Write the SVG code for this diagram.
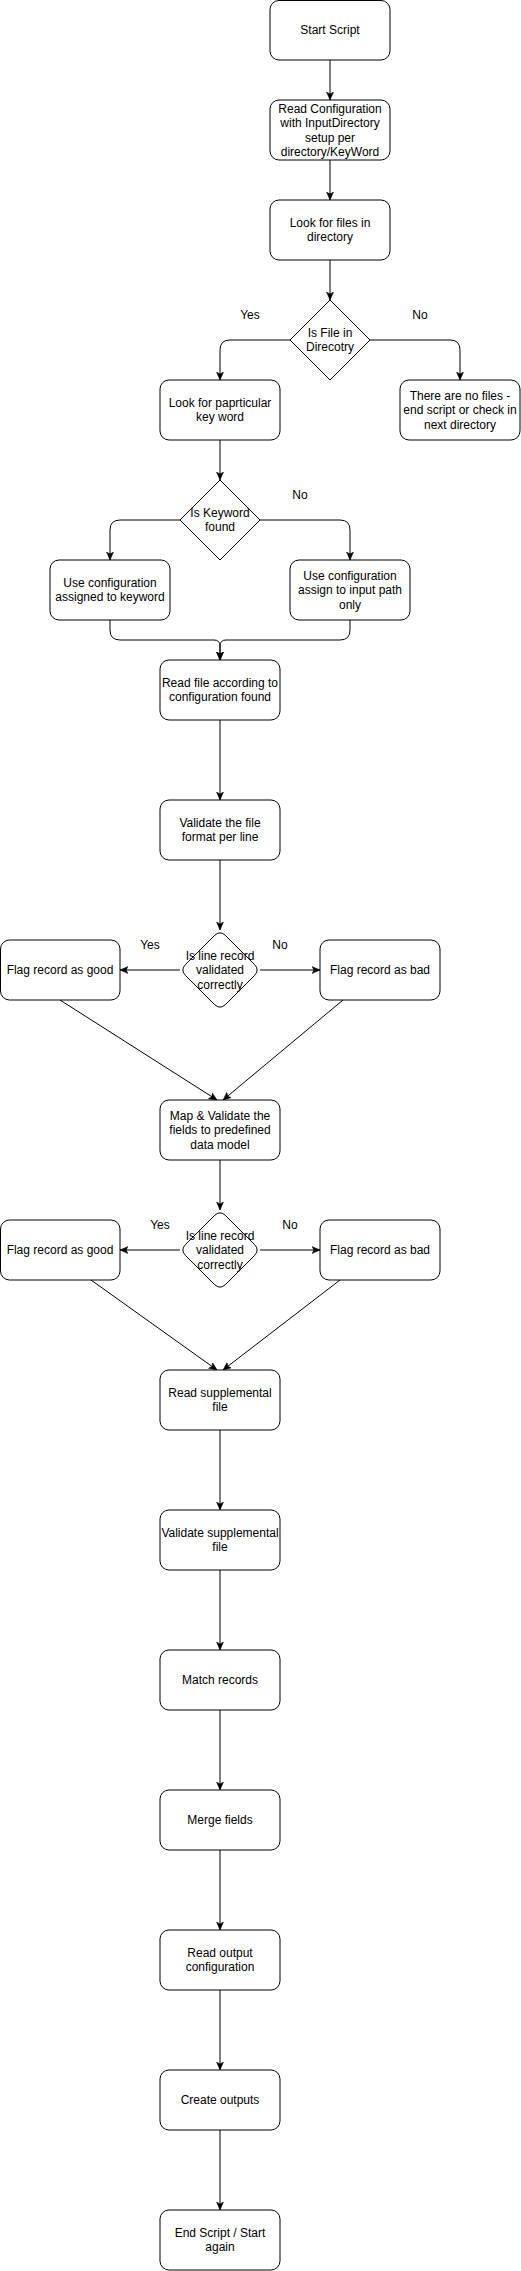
<svg xmlns="http://www.w3.org/2000/svg" width="521" height="2271" viewBox="0 0 521 2271">
<style>
.n{fill:#fff;stroke:#000;stroke-width:1}
.t{font-family:"Liberation Sans",Arial,sans-serif;font-size:12px;fill:#000;text-anchor:middle}
.e{fill:none;stroke:#000;stroke-width:1}
</style>
<defs>
<marker id="arr" markerWidth="10" markerHeight="8" refX="8" refY="4" orient="auto" markerUnits="userSpaceOnUse" viewBox="0 0 10 8">
<path d="M0,0.5 L8,4 L0,7.5 L2,4 Z" fill="#000" stroke="#000" stroke-width="0.5"/>
</marker>
<path id="rdia" d="M214.34,935.66 Q220,930 225.66,935.66 L254.34,964.34 Q260,970 254.34,975.66 L225.66,1004.34 Q220,1010 214.34,1004.34 L185.66,975.66 Q180,970 185.66,964.34 Z"/>
</defs>
<rect width="521" height="2271" fill="#fff"/>

<g id="connectors">
<path class="e" d="M330,60 L330,100" marker-end="url(#arr)"/>
<path class="e" d="M330,160 L330,200" marker-end="url(#arr)"/>
<path class="e" d="M330,260 L330,300" marker-end="url(#arr)"/>
<path class="e" d="M290,340 L230,340 Q220,340 220,350 L220,380" marker-end="url(#arr)"/>
<path class="e" d="M370,340 L450,340 Q460,340 460,350 L460,380" marker-end="url(#arr)"/>
<path class="e" d="M220,440 L220,480" marker-end="url(#arr)"/>
<path class="e" d="M180,520 L120,520 Q110,520 110,530 L110,560" marker-end="url(#arr)"/>
<path class="e" d="M260,520 L340,520 Q350,520 350,530 L350,560" marker-end="url(#arr)"/>
<path class="e" d="M110,620 L110,630 Q110,640 120,640 L214,640 Q220,640 220,646 L220,660" marker-end="url(#arr)"/>
<path class="e" d="M350,620 L350,630 Q350,640 340,640 L226,640 Q220,640 220,646 L220,660" marker-end="url(#arr)"/>
<path class="e" d="M220,720 L220,800" marker-end="url(#arr)"/>
<path class="e" d="M220,860 L220,930" marker-end="url(#arr)"/>
<path class="e" d="M180,970 L120,970" marker-end="url(#arr)"/>
<path class="e" d="M260,970 L320,970" marker-end="url(#arr)"/>
<path class="e" d="M60,1000 L217,1100" marker-end="url(#arr)"/>
<path class="e" d="M343,1000 L223,1100" marker-end="url(#arr)"/>
<path class="e" d="M220,1160 L220,1210" marker-end="url(#arr)"/>
<path class="e" d="M180,1250 L120,1250" marker-end="url(#arr)"/>
<path class="e" d="M260,1250 L320,1250" marker-end="url(#arr)"/>
<path class="e" d="M91,1280 L217,1370" marker-end="url(#arr)"/>
<path class="e" d="M340,1280 L223,1370" marker-end="url(#arr)"/>
<path class="e" d="M220,1430 L220,1510" marker-end="url(#arr)"/>
<path class="e" d="M220,1570 L220,1650" marker-end="url(#arr)"/>
<path class="e" d="M220,1710 L220,1790" marker-end="url(#arr)"/>
<path class="e" d="M220,1850 L220,1930" marker-end="url(#arr)"/>
<path class="e" d="M220,1990 L220,2070" marker-end="url(#arr)"/>
<path class="e" d="M220,2130 L220,2210" marker-end="url(#arr)"/>
</g>

<g id="labels">
<text class="t" x="250" y="319">Yes</text>
<text class="t" x="420" y="319">No</text>
<text class="t" x="300" y="499">No</text>
<text class="t" x="150" y="949">Yes</text>
<text class="t" x="280" y="949">No</text>
<text class="t" x="160" y="1229">Yes</text>
<text class="t" x="290" y="1229">No</text>
</g>

<g id="start">
<rect class="n" x="270" y="0.5" width="120" height="59.5" rx="9"/>
<text class="t" x="330" y="34.3">Start Script</text>
</g>
<g id="readConfig">
<rect class="n" x="270" y="100" width="120" height="60" rx="9"/>
<text class="t" x="330" y="113"><tspan x="330">Read Configuration</tspan><tspan x="330" dy="14.4">with InputDirectory</tspan><tspan x="330" dy="14.4">setup per</tspan><tspan x="330" dy="14.4">directory/KeyWord</tspan></text>
</g>
<g id="lookFiles">
<rect class="n" x="270" y="200" width="120" height="60" rx="9"/>
<text class="t" x="330" y="227"><tspan x="330">Look for files in</tspan><tspan x="330" dy="14.4">directory</tspan></text>
</g>
<g id="isFile">
<path class="n" d="M330,300 L370,340 L330,380 L290,340 Z"/>
<text class="t" x="330" y="337"><tspan x="330">Is File in</tspan><tspan x="330" dy="14.4">Direcotry</tspan></text>
</g>
<g id="lookKeyword">
<rect class="n" x="160" y="380" width="120" height="60" rx="9"/>
<text class="t" x="220" y="407"><tspan x="220">Look for paprticular</tspan><tspan x="220" dy="14.4">key word</tspan></text>
</g>
<g id="noFiles">
<rect class="n" x="400" y="380" width="120" height="60" rx="9"/>
<text class="t" x="460" y="400"><tspan x="460">There are no files -</tspan><tspan x="460" dy="14.4">end script or check in</tspan><tspan x="460" dy="14.4">next directory</tspan></text>
</g>
<g id="isKeyword">
<path class="n" d="M220,480 L260,520 L220,560 L180,520 Z"/>
<text class="t" x="220" y="517"><tspan x="220">Is Keyword</tspan><tspan x="220" dy="14.4">found</tspan></text>
</g>
<g id="useKeywordConfig">
<rect class="n" x="50" y="560" width="120" height="60" rx="9"/>
<text class="t" x="110" y="587"><tspan x="110">Use configuration</tspan><tspan x="110" dy="14.4">assigned to keyword</tspan></text>
</g>
<g id="usePathConfig">
<rect class="n" x="290" y="560" width="120" height="60" rx="9"/>
<text class="t" x="350" y="580"><tspan x="350">Use configuration</tspan><tspan x="350" dy="14.4">assign to input path</tspan><tspan x="350" dy="14.4">only</tspan></text>
</g>
<g id="readFile">
<rect class="n" x="160" y="660" width="120" height="60" rx="9"/>
<text class="t" x="220" y="687"><tspan x="220">Read file according to</tspan><tspan x="220" dy="14.4">configuration found</tspan></text>
</g>
<g id="validateFormat">
<rect class="n" x="160" y="800" width="120" height="60" rx="9"/>
<text class="t" x="220" y="827"><tspan x="220">Validate the file</tspan><tspan x="220" dy="14.4">format per line</tspan></text>
</g>
<g id="isLineValid1">
<use href="#rdia" class="n"/>
<text class="t" x="220" y="960"><tspan x="220">Is line record</tspan><tspan x="220" dy="14.4">validated</tspan><tspan x="220" dy="14.4">correctly</tspan></text>
</g>
<g id="flagGood1">
<rect class="n" x="0.5" y="940" width="119.5" height="60" rx="9"/>
<text class="t" x="60" y="974.3">Flag record as good</text>
</g>
<g id="flagBad1">
<rect class="n" x="320" y="940" width="120" height="60" rx="9"/>
<text class="t" x="380" y="974.3">Flag record as bad</text>
</g>
<g id="mapValidate">
<rect class="n" x="160" y="1100" width="120" height="60" rx="9"/>
<text class="t" x="220" y="1120"><tspan x="220">Map &amp; Validate the</tspan><tspan x="220" dy="14.4">fields to predefined</tspan><tspan x="220" dy="14.4">data model</tspan></text>
</g>
<g id="isLineValid2">
<use href="#rdia" class="n" transform="translate(0,280)"/>
<text class="t" x="220" y="1240"><tspan x="220">Is line record</tspan><tspan x="220" dy="14.4">validated</tspan><tspan x="220" dy="14.4">correctly</tspan></text>
</g>
<g id="flagGood2">
<rect class="n" x="0.5" y="1220" width="119.5" height="60" rx="9"/>
<text class="t" x="60" y="1254.3">Flag record as good</text>
</g>
<g id="flagBad2">
<rect class="n" x="320" y="1220" width="120" height="60" rx="9"/>
<text class="t" x="380" y="1254.3">Flag record as bad</text>
</g>
<g id="readSupp">
<rect class="n" x="160" y="1370" width="120" height="60" rx="9"/>
<text class="t" x="220" y="1397"><tspan x="220">Read supplemental</tspan><tspan x="220" dy="14.4">file</tspan></text>
</g>
<g id="validateSupp">
<rect class="n" x="160" y="1510" width="120" height="60" rx="9"/>
<text class="t" x="220" y="1537"><tspan x="220">Validate supplemental</tspan><tspan x="220" dy="14.4">file</tspan></text>
</g>
<g id="matchRecords">
<rect class="n" x="160" y="1650" width="120" height="60" rx="9"/>
<text class="t" x="220" y="1684.3">Match records</text>
</g>
<g id="mergeFields">
<rect class="n" x="160" y="1790" width="120" height="60" rx="9"/>
<text class="t" x="220" y="1824.3">Merge fields</text>
</g>
<g id="readOutputConfig">
<rect class="n" x="160" y="1930" width="120" height="60" rx="9"/>
<text class="t" x="220" y="1957"><tspan x="220">Read output</tspan><tspan x="220" dy="14.4">configuration</tspan></text>
</g>
<g id="createOutputs">
<rect class="n" x="160" y="2070" width="120" height="60" rx="9"/>
<text class="t" x="220" y="2104.3">Create outputs</text>
</g>
<g id="endScript">
<rect class="n" x="160" y="2210" width="120" height="60" rx="9"/>
<text class="t" x="220" y="2237"><tspan x="220">End Script / Start</tspan><tspan x="220" dy="14.4">again</tspan></text>
</g>
</svg>
